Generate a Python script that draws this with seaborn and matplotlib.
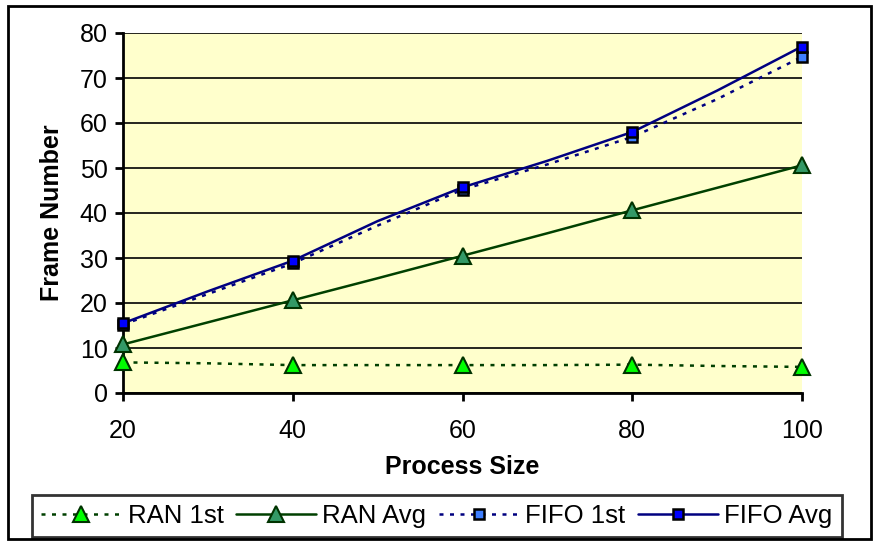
import matplotlib
matplotlib.use("Agg")
import matplotlib.pyplot as plt
from matplotlib.patches import Rectangle
import pandas as pd
import seaborn as sns

# Process sizes sampled along the category axis
process_size = [20, 30, 40, 50, 60, 70, 80, 90, 100]
tick_values = [20, 40, 60, 80, 100]

# Average / first-hit frame numbers for each replacement policy
ran_1st = [6.8, 6.6, 6.2, 6.2, 6.2, 6.2, 6.3, 6.0, 5.8]
ran_avg = [10.8, 15.7, 20.6, 25.5, 30.5, 35.5, 40.6, 45.6, 50.6]
fifo_1st = [15.2, 22.0, 28.8, 37.2, 45.2, 50.8, 56.9, 65.3, 74.7]
fifo_avg = [15.5, 22.6, 29.4, 38.2, 45.7, 51.6, 58.0, 67.2, 77.0]

series_names = ["RAN 1st", "RAN Avg", "FIFO 1st", "FIFO Avg"]

sns.set_theme(style="white")
plt.rcParams["font.family"] = ["Liberation Sans", "DejaVu Sans"]
plt.rcParams["text.color"] = "black"
plt.rcParams["axes.labelcolor"] = "black"

fig = plt.figure(figsize=(8.77, 5.41), dpi=100)
ax = fig.add_axes([123 / 877, 1 - 393 / 541, (802 - 123) / 877, 360 / 541])
ax.set_facecolor("#FFFFCC")

df = pd.DataFrame({
    "size": process_size,
    "RAN 1st": ran_1st,
    "RAN Avg": ran_avg,
    "FIFO 1st": fifo_1st,
    "FIFO Avg": fifo_avg,
})

# markers only on the labelled process sizes
mark_idx = [process_size.index(v) for v in tick_values]

styles = {
    "RAN 1st": dict(color="#004000", ls=(0, (1.6, 2.6)), lw=1.8, marker="^",
                    mfc="#00FF00", mec="#003300", ms=12, mew=1.5),
    "RAN Avg": dict(color="#004000", ls="-", lw=1.8, marker="^",
                    mfc="#339966", mec="#003300", ms=12, mew=1.5),
    "FIFO 1st": dict(color="#000080", ls=(0, (1.6, 2.6)), lw=1.8, marker="s",
                     mfc="#3F7FFF", mec="black", ms=7.5, mew=1.8),
    "FIFO Avg": dict(color="#000080", ls="-", lw=1.8, marker="s",
                     mfc="#0000FF", mec="black", ms=7.5, mew=1.8),
}

for name in series_names:
    st = styles[name]
    sns.lineplot(data=df, x="size", y=name, ax=ax, label=name,
                 color=st["color"], linestyle=st["ls"], linewidth=st["lw"],
                 marker=st["marker"], markerfacecolor=st["mfc"],
                 markeredgecolor=st["mec"], markersize=st["ms"],
                 markeredgewidth=st["mew"], markevery=mark_idx,
                 clip_on=False, zorder=3)

ax.set_xlim(20, 100)
ax.set_ylim(0, 80)
ax.set_xticks(tick_values)
ax.set_yticks(range(0, 81, 10))
ax.yaxis.grid(True, color="black", linewidth=1.2)
ax.set_axisbelow(True)

for side in ["top", "right"]:
    ax.spines[side].set_visible(False)
for side in ["left", "bottom"]:
    ax.spines[side].set_color("black")
    ax.spines[side].set_linewidth(2)

ax.tick_params(axis="both", direction="out", length=6, width=2, colors="black",
               labelsize=18, bottom=True, left=True)
ax.tick_params(axis="x", pad=13)
ax.tick_params(axis="y", pad=5)

ax.set_xlabel("Process Size", fontsize=18, fontweight="bold", color="black")
ax.set_ylabel("Frame Number", fontsize=18, fontweight="bold", color="black")
ax.xaxis.set_label_coords(0.5, (393 - 455) / 360, transform=ax.transAxes)
ax.yaxis.set_label_coords((64 - 123) / 679, 0.5, transform=ax.transAxes)

ax.legend_.remove()
handles, labels = ax.get_legend_handles_labels()
leg = fig.legend(handles, labels, loc="center", ncol=4,
                 bbox_to_anchor=(437 / 877, 1 - 516 / 541),
                 fontsize=18.5, frameon=True, fancybox=False, handlelength=3.1,
                 handletextpad=0.25, columnspacing=0.5, borderaxespad=0.0,
                 borderpad=0.35, labelcolor="black")
leg.get_frame().set_edgecolor("black")
leg.get_frame().set_linewidth(2)

fig.patches.append(Rectangle((8 / 877, 1 - 539 / 541), 863 / 877, 533 / 541,
                             transform=fig.transFigure, fill=False,
                             edgecolor="black", linewidth=2))

fig.savefig("out.png", dpi=100, facecolor="white")
